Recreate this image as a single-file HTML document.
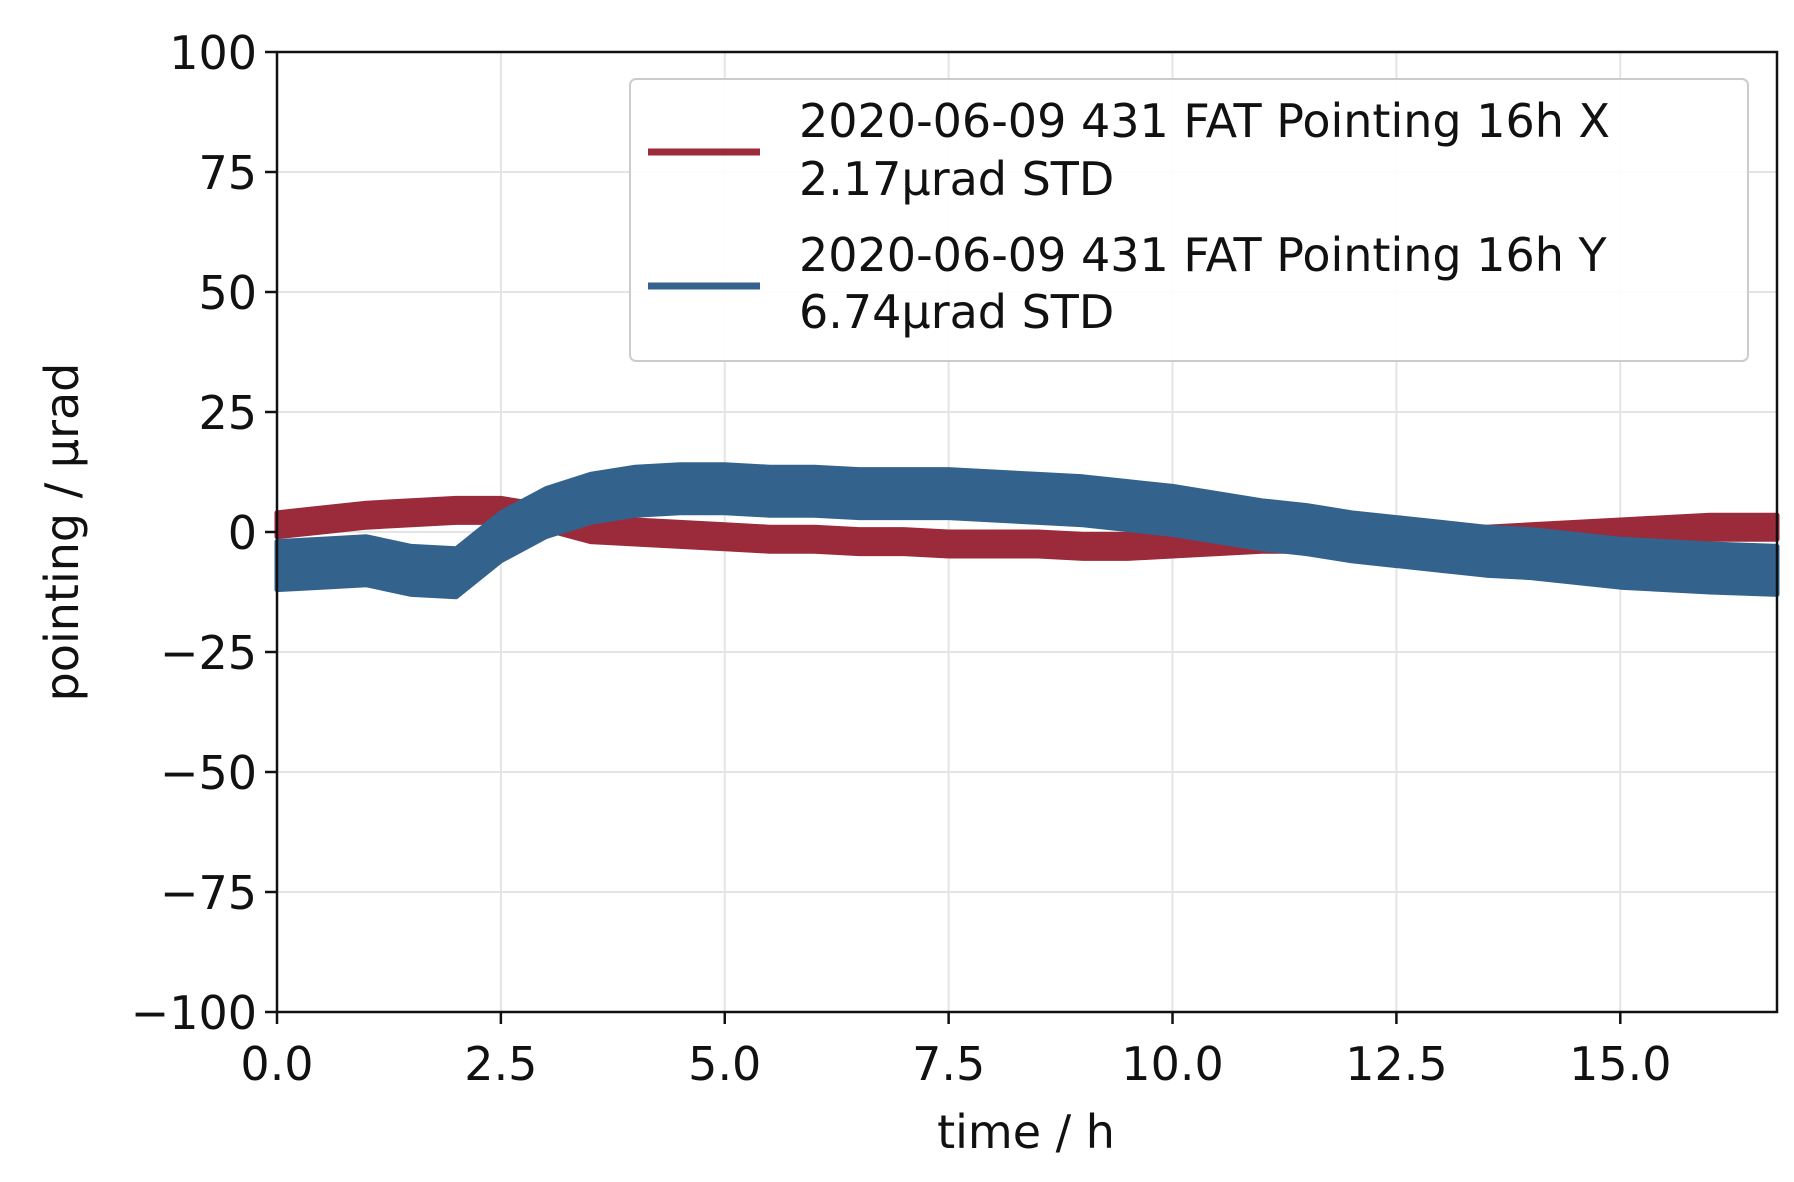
<!DOCTYPE html>
<html><head><meta charset="utf-8"><style>
body{margin:0;background:#fff}
svg{display:block;font-family:"DejaVu Sans","Liberation Sans",sans-serif}
</style></head><body>
<svg id="chart" width="1794" height="1182" viewBox="0 0 1794 1182" xmlns="http://www.w3.org/2000/svg">
<rect width="1794" height="1182" fill="#fff"/>
<g id="grid"></g>
<g id="series"></g>
<rect x="277" y="52" width="1500" height="960" fill="none" stroke="#111" stroke-width="2.5"/>
<g id="ticks"></g>
<text x="1026" y="1148" font-size="46" text-anchor="middle" fill="#111">time / h</text>
<text transform="translate(78,532) rotate(-90)" font-size="46" text-anchor="middle" fill="#111">pointing / μrad</text>
<g>
<rect x="630" y="79" width="1118" height="282" rx="6" fill="#fff" fill-opacity="0.9" stroke="#ccc" stroke-width="2"/>
<line x1="648" y1="152" x2="760" y2="152" stroke="#9b2a3a" stroke-width="7"/>
<text x="799" y="137" font-size="46" fill="#111">2020-06-09 431 FAT Pointing 16h X</text>
<text x="799" y="195" font-size="46" fill="#111">2.17μrad STD</text>
<line x1="648" y1="286" x2="760" y2="286" stroke="#33638d" stroke-width="7"/>
<text x="799" y="271" font-size="46" fill="#111">2020-06-09 431 FAT Pointing 16h Y</text>
<text x="799" y="328" font-size="46" fill="#111">6.74μrad STD</text>
</g>
</svg>
<script>
const times=[0,0.5,1,1.5,2,2.5,3,3.5,4,4.5,5,5.5,6,6.5,7,7.5,8,8.5,9,9.5,10,10.5,11,11.5,12,12.5,13,13.5,14,14.5,15,15.5,16,16.75];
const seriesX=[1.5,2.5,3.5,4,4.5,4.5,3,0.5,0,-0.5,-1,-1.5,-1.5,-2,-2,-2.5,-2.5,-2.5,-3,-3,-2.5,-2,-1.5,-1.5,-1.5,-1.5,-1.5,-1.5,-1,-0.5,0,0.5,1,1];
const bandX=[2.5,2.5,2.5,2.5,2.5,2.5,2.5,2.5,2.5,2.5,2.5,2.5,2.5,2.5,2.5,2.5,2.5,2.5,2.5,2.5,2.5,2.5,2.5,2.5,2.5,2.5,2.5,2.5,2.5,2.5,2.5,2.5,2.5,2.5];
const seriesY=[-7,-6.5,-6,-8,-8.5,-1,4,7,8.5,9,9,8.5,8.5,8,8,8,7.5,7,6.5,5.5,4.5,3,1.5,0.5,-1,-2,-3,-4,-4.5,-5.5,-6.5,-7,-7.5,-8];
const bandY=[5,5,5,5,5,5,5,5,5,5,5,5,5,5,5,5,5,5,5,5,5,5,5,5,5,5,5,5,5,5,5,5,5,5];
const xTicks=[0,2.5,5,7.5,10,12.5,15];
const xTickLabels=["0.0","2.5","5.0","7.5","10.0","12.5","15.0"];
const yTicks=[100,75,50,25,0,-25,-50,-75,-100];
const yTickLabels=["100","75","50","25","0","−25","−50","−75","−100"];
const NS="http://www.w3.org/2000/svg";
const X0=277,XW=1500,XMAX=16.75,Y0=52,YH=960;
function sx(t){return X0+t/XMAX*XW;}
function sy(v){return Y0+(100-v)/200*YH;}
function mk(tag,attrs,parent){const e=document.createElementNS(NS,tag);for(const k in attrs)e.setAttribute(k,attrs[k]);parent.appendChild(e);return e;}
const grid=document.getElementById('grid'),ticks=document.getElementById('ticks'),ser=document.getElementById('series');
xTicks.forEach((t,i)=>{
  const g=mk('line',{x1:sx(t),x2:sx(t),y1:Y0,y2:Y0+YH,stroke:'#e4e4e4','stroke-width':2},grid);
  
  
  const tk=mk('line',{x1:sx(t),x2:sx(t),y1:Y0+YH,y2:Y0+YH+12,stroke:'#111','stroke-width':2.5},ticks);
  
  
  const tx=mk('text',{x:sx(t),y:1080,'font-size':46,'text-anchor':'middle',fill:'#111'},ticks);
  tx.textContent=xTickLabels[i];
  
  
});
yTicks.forEach((v,i)=>{
  const g=mk('line',{x1:X0,x2:X0+XW,y1:sy(v),y2:sy(v),stroke:'#e4e4e4','stroke-width':2},grid);
  
  
  const tk=mk('line',{x1:X0-12,x2:X0,y1:sy(v),y2:sy(v),stroke:'#111','stroke-width':2.5},ticks);
  
  
  const tx=mk('text',{x:X0-20,y:sy(v)+17,'font-size':46,'text-anchor':'end',fill:'#111'},ticks);
  tx.textContent=yTickLabels[i];
  
  
});
function band(center,hw,color,name){
  let up=[],lo=[];
  times.forEach((t,i)=>{up.push(sx(t)+','+sy(center[i]+hw[i]));lo.unshift(sx(t)+','+sy(center[i]-hw[i]));});
  const p=mk('polygon',{points:up.concat(lo).join(' '),fill:color,stroke:color,'stroke-width':5,'stroke-linejoin':'round'},ser);
  
  
}
band(seriesX,bandX,'#9b2a3a','series-x-band');
band(seriesY,bandY,'#33638d','series-y-band');
</script>
</body></html>
